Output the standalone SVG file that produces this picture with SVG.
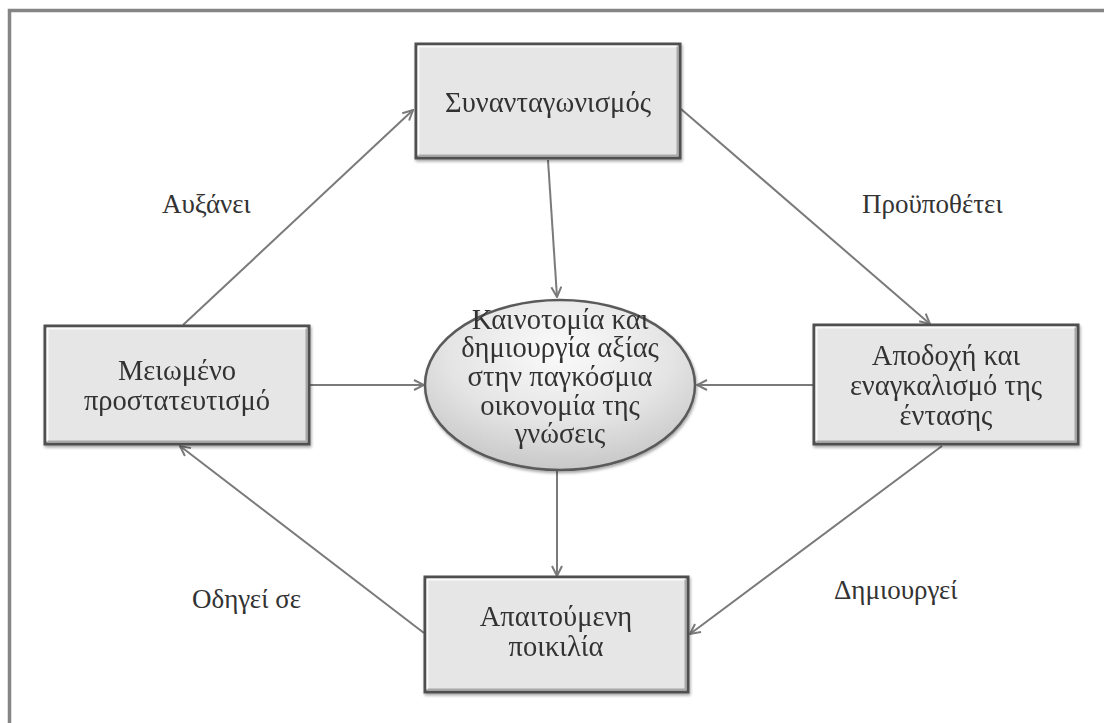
<svg xmlns="http://www.w3.org/2000/svg" width="1104" height="723" viewBox="0 0 1104 723">
  <style>
    .frame { fill: none; stroke: #858585; stroke-width: 3.5; }
    .box { fill: #e6e6e6; stroke: #4f4f4f; stroke-width: 3; }
    .hi { fill: none; stroke: #fafafa; stroke-width: 2; }
    .lo { fill: none; stroke: #a8a8a8; stroke-width: 2; }
    .oval { fill: url(#ovalFill); stroke: #5a5a5a; stroke-width: 2.5; }
    .label { font-family: "Liberation Serif", "DejaVu Serif", serif; font-size: 28.5px; fill: #333333; text-anchor: middle; }
    .edge-label { font-family: "Liberation Serif", "DejaVu Serif", serif; font-size: 27px; fill: #333333; }
    .link { fill: none; stroke: #7a7a7a; stroke-width: 2; marker-end: url(#arrow); }
  </style>
  <defs>
    <marker id="arrow" viewBox="0 0 12 12" refX="11" refY="6" markerWidth="12" markerHeight="12" markerUnits="userSpaceOnUse" orient="auto">
      <path d="M1,1 L11,6 L1,11" fill="none" stroke="#7a7a7a" stroke-width="2"/>
    </marker>
    <radialGradient id="ovalFill" cx="0.5" cy="0.3" r="0.7">
      <stop offset="0" stop-color="#fbfbfb"/>
      <stop offset="0.6" stop-color="#e4e4e4"/>
      <stop offset="1" stop-color="#c8c8c8"/>
    </radialGradient>
    <filter id="shadow" x="-10%" y="-10%" width="120%" height="130%">
      <feGaussianBlur in="SourceAlpha" stdDeviation="1.5"/>
      <feOffset dx="1" dy="2" result="b"/>
      <feComponentTransfer><feFuncA type="linear" slope="0.35"/></feComponentTransfer>
      <feMerge><feMergeNode/><feMergeNode in="SourceGraphic"/></feMerge>
    </filter>
  </defs>

  <rect width="1104" height="723" fill="#ffffff"/>
  <path class="frame" d="M9.5,723 V10.5 H1104"/>

  <g id="connectors">
    <line class="link" x1="183" y1="325" x2="413" y2="110"/>
    <line class="link" x1="681" y1="109" x2="930" y2="324"/>
    <line class="link" x1="548" y1="160" x2="557" y2="297"/>
    <line class="link" x1="310" y1="385" x2="424" y2="385"/>
    <line class="link" x1="813" y1="385" x2="697" y2="385"/>
    <line class="link" x1="557" y1="471" x2="557" y2="576"/>
    <line class="link" x1="942" y1="446" x2="690" y2="634"/>
    <line class="link" x1="424" y1="633" x2="180" y2="446"/>
  </g>

  <g id="edge-labels">
    <text class="edge-label" x="162" y="213">Αυξάνει</text>
    <text class="edge-label" x="862" y="213">Προϋποθέτει</text>
    <text class="edge-label" x="192" y="608">Οδηγεί σε</text>
    <text class="edge-label" x="834" y="599">Δημιουργεί</text>
  </g>

  <g id="node-competition" filter="url(#shadow)">
    <rect class="box" x="416" y="44" width="264" height="114"/>
    <path class="hi" d="M418.5,155 V46.5 H677.5"/>
    <path class="lo" d="M418.5,155.5 H677.5 V46.5"/>
    <text class="label" x="548" y="112">Συνανταγωνισμός</text>
  </g>

  <g id="node-protectionism" filter="url(#shadow)">
    <rect class="box" x="45" y="326" width="264" height="118"/>
    <path class="hi" d="M47.5,441 V328.5 H306.5"/>
    <path class="lo" d="M47.5,441.5 H306.5 V328.5"/>
    <text class="label" x="177" y="380">Μειωμένο</text>
    <text class="label" x="177" y="410">προστατευτισμό</text>
  </g>

  <g id="node-tension" filter="url(#shadow)">
    <rect class="box" x="814" y="325" width="264" height="119"/>
    <path class="hi" d="M816.5,441 V327.5 H1075.5"/>
    <path class="lo" d="M816.5,441.5 H1075.5 V327.5"/>
    <text class="label" x="946" y="365">Αποδοχή και</text>
    <text class="label" x="946" y="395">εναγκαλισμό της</text>
    <text class="label" x="946" y="425">έντασης</text>
  </g>

  <g id="node-variety" filter="url(#shadow)">
    <rect class="box" x="425" y="577" width="263" height="115"/>
    <path class="hi" d="M427.5,689 V579.5 H685.5"/>
    <path class="lo" d="M427.5,689.5 H685.5 V579.5"/>
    <text class="label" x="556" y="626">Απαιτούμενη</text>
    <text class="label" x="556" y="656">ποικιλία</text>
  </g>

  <g id="node-innovation" filter="url(#shadow)">
    <ellipse class="oval" cx="560" cy="385" rx="135" ry="85"/>
    <text class="label" x="560" y="329">Καινοτομία και</text>
    <text class="label" x="560" y="357">δημιουργία αξίας</text>
    <text class="label" x="560" y="386">στην παγκόσμια</text>
    <text class="label" x="560" y="415">οικονομία της</text>
    <text class="label" x="560" y="443">γνώσεις</text>
  </g>
</svg>
